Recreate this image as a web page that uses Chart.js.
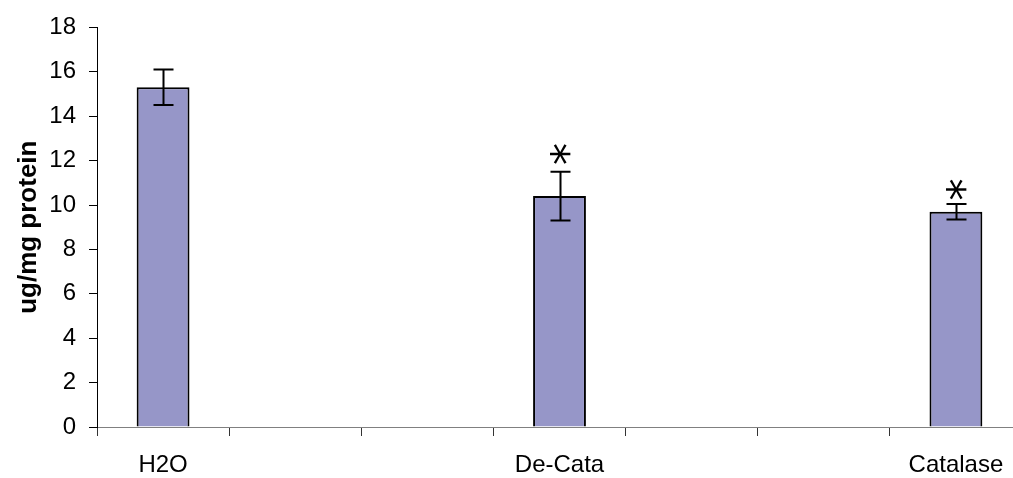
<!DOCTYPE html>
<html>
  <head>
    <meta charset="UTF-8" />
    <title>ug/mg protein</title>
    <style>
      html, body { margin: 0; padding: 0; overflow: hidden; background: #fff; }
      #wrap { width: 1030px; height: 478px; position: relative; }
    </style>
  </head>
  <body>
    <div id="wrap"><canvas id="chart"></canvas></div>
    <script src="https://cdn.jsdelivr.net/npm/chart.js"></script>
    <script>
      // categories (empty slots keep the wide spacing of the original)
      const labels = ['H2O', '', '', 'De-Cata', '', '', 'Catalase'];
      const values = [15.3, null, null, 10.4, null, null, 9.7];
      const errors = [0.8, null, null, 1.1, null, null, 0.35];
      const marks = ['', '', '', '*', '', '', '*'];
      const markY = [null, null, null, 12.3, null, null, 10.7];
      const yTicks = [0, 2, 4, 6, 8, 10, 12, 14, 16, 18];

      const font = { family: "'Liberation Sans', Arial, sans-serif", size: 24 };

      // error bars + significance marks
      const errorBars = {
        id: 'errorBars',
        afterDatasetsDraw(chart) {
          const ctx = chart.ctx;
          const y = chart.scales.y;
          const meta = chart.getDatasetMeta(0);
          ctx.save();
          ctx.strokeStyle = '#000';
          ctx.lineWidth = 2;
          meta.data.forEach((bar, i) => {
            if (values[i] == null) return;
            const x = Math.round(bar.x) + 0.5;
            const top = y.getPixelForValue(values[i] + errors[i]);
            const bot = y.getPixelForValue(values[i] - errors[i]);
            ctx.beginPath();
            ctx.moveTo(x, top); ctx.lineTo(x, bot);
            ctx.moveTo(x - 10, top); ctx.lineTo(x + 10, top);
            ctx.moveTo(x - 10, bot); ctx.lineTo(x + 10, bot);
            ctx.stroke();
            if (marks[i]) {
              // DejaVu asterisk turned a quarter round -> horizontal arm like the original
              ctx.save();
              ctx.font = "44px 'DejaVu Sans'";
              ctx.fillStyle = '#000';
              ctx.textAlign = 'left';
              ctx.textBaseline = 'alphabetic';
              const m = ctx.measureText(marks[i]);
              const gx = (m.actualBoundingBoxRight - m.actualBoundingBoxLeft) / 2;
              const gy = (m.actualBoundingBoxDescent - m.actualBoundingBoxAscent) / 2;
              ctx.translate(x, y.getPixelForValue(markY[i]));
              ctx.rotate(Math.PI / 2);
              ctx.fillText(marks[i], -gx, -gy);
              ctx.restore();
            }
          });
          ctx.restore();
        }
      };

      new Chart(document.getElementById('chart'), {
        type: 'bar',
        data: {
          labels: labels,
          datasets: [{
            data: values,
            backgroundColor: '#9696C8',
            borderColor: '#000',
            borderWidth: 2,
            barPercentage: 0.4,
            categoryPercentage: 1.0,
          }],
        },
        options: {
          responsive: true,
          maintainAspectRatio: false,
          animation: false,
          layout: { padding: { left: 0, top: 22, right: 8, bottom: 0 } },
          plugins: { legend: { display: false }, tooltip: { enabled: false } },
          scales: {
            x: {
              afterFit(s) { s.height = 51; },
              grid: { drawOnChartArea: false, tickLength: 9, color: '#333', offset: true },
              border: { color: '#808080', width: 1 },
              ticks: { color: '#000', font: font, autoSkip: false, maxRotation: 0, padding: 15 },
            },
            y: {
              min: 0,
              max: 18,
              afterFit(s) { s.width = 97; },
              afterBuildTicks(s) { s.ticks = yTicks.map(v => ({ value: v })); },
              grid: { drawOnChartArea: false, tickLength: 8, color: '#000' },
              border: { color: '#000', width: 1 },
              ticks: { color: '#000', font: font, padding: 13 },
              title: {
                display: true,
                text: 'ug/mg protein',
                color: '#000',
                font: { family: font.family, size: 26, weight: 'bold' },
                padding: { top: 13, bottom: 0 },
              },
            },
          },
        },
        plugins: [errorBars],
      });
    </script>
  </body>
</html>
